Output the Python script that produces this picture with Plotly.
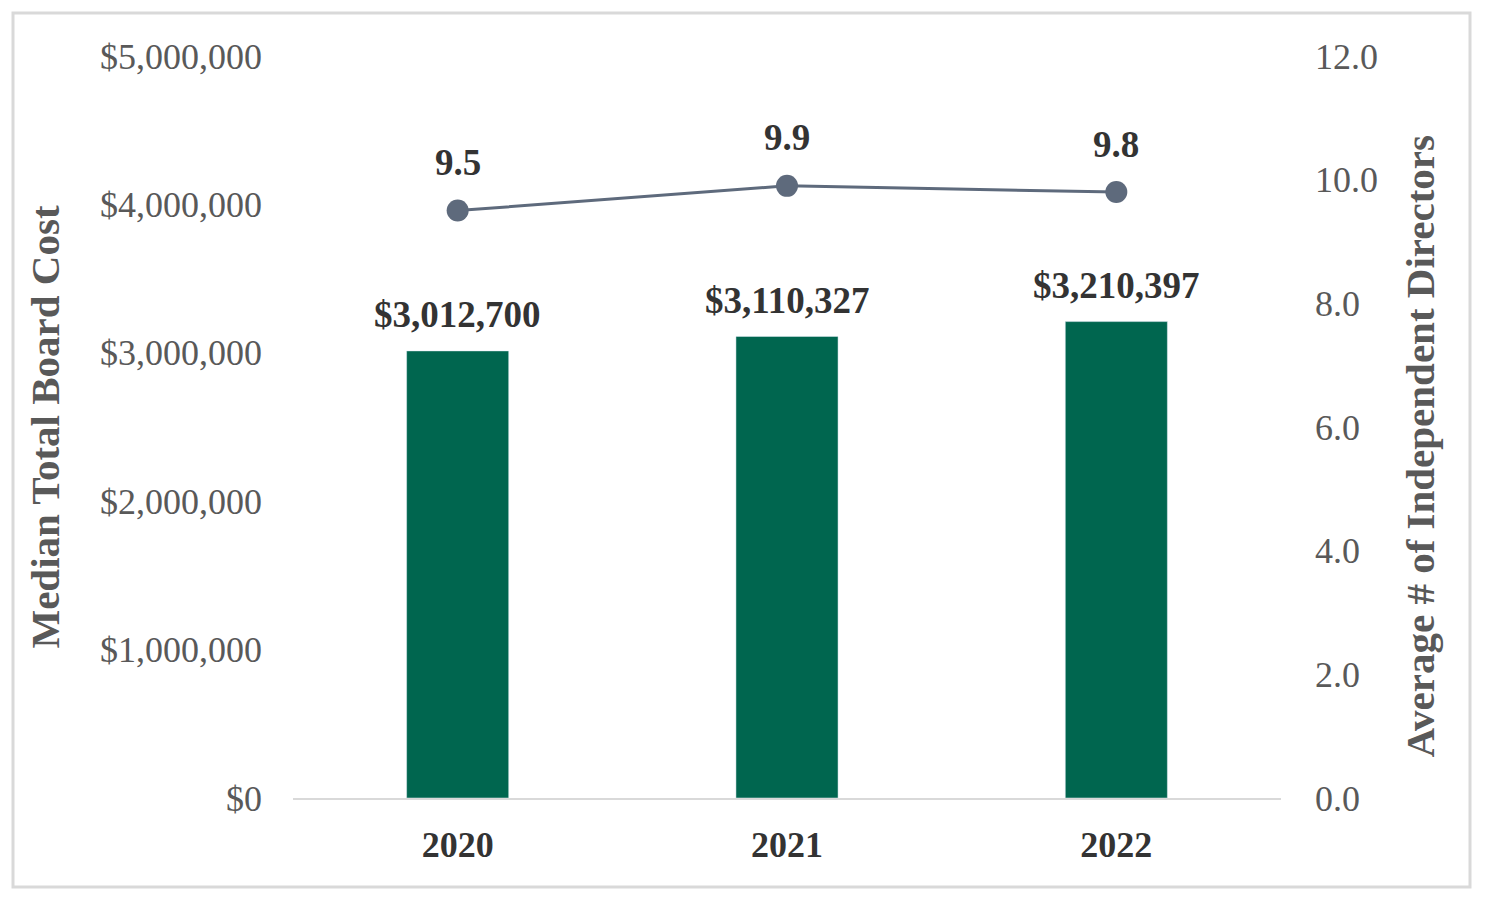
import plotly.graph_objects as go

years = ["2020", "2021", "2022"]
board_cost = [3012700, 3110327, 3210397]
directors = [9.5, 9.9, 9.8]
cost_labels = ["$3,012,700", "$3,110,327", "$3,210,397"]
dir_labels = ["9.5", "9.9", "9.8"]
left_ticks = [0, 1000000, 2000000, 3000000, 4000000, 5000000]
left_tick_text = ["$0", "$1,000,000", "$2,000,000", "$3,000,000", "$4,000,000", "$5,000,000"]
right_ticks = [0, 2, 4, 6, 8, 10, 12]
right_tick_text = ["0.0", "2.0", "4.0", "6.0", "8.0", "10.0", "12.0"]

FONT = "Liberation Serif"
BAR_COLOR = "#00664F"
LINE_COLOR = "#5E6A7C"
TICK_COLOR = "#595959"
LABEL_COLOR = "#333333"

fig = go.Figure()
fig.add_trace(go.Bar(x=years, y=board_cost, marker_color=BAR_COLOR, width=0.31,
                     yaxis="y", hoverinfo="skip"))
fig.add_trace(go.Scatter(x=years, y=directors, mode="lines+markers", yaxis="y2",
                         line=dict(color=LINE_COLOR, width=3),
                         marker=dict(color=LINE_COLOR, size=22), hoverinfo="skip"))

annotations = []
for i, (v, t) in enumerate(zip(board_cost, cost_labels)):
    annotations.append(dict(x=i, y=v, xref="x", yref="y", text="<b>%s</b>" % t,
                            showarrow=False, yanchor="middle", yshift=36,
                            font=dict(family=FONT, size=37, color=LABEL_COLOR)))
for i, (v, t) in enumerate(zip(directors, dir_labels)):
    annotations.append(dict(x=i, y=v, xref="x", yref="y2", text="<b>%s</b>" % t,
                            showarrow=False, yanchor="middle", yshift=48,
                            font=dict(family=FONT, size=37, color=LABEL_COLOR)))
# right axis title, placed as in the reference (slightly below centre)
annotations.append(dict(x=1.1407, y=0.4737, xref="paper", yref="paper",
                        text="<b>Average # of Independent Directors</b>", textangle=-90,
                        showarrow=False, xanchor="center", yanchor="middle",
                        font=dict(family=FONT, size=41, color=TICK_COLOR)))

fig.update_layout(
    width=1478, height=895,
    margin=dict(l=285, r=205, t=48, b=105),
    paper_bgcolor="white", plot_bgcolor="white",
    showlegend=False,
    font=dict(family=FONT, size=36, color=TICK_COLOR),
    xaxis=dict(type="category", range=[-0.5, 2.5], showgrid=False, showline=True,
               linecolor="#D9D9D9", linewidth=2, ticks="", ticklabelstandoff=14,
               automargin=False, tickangle=0,
               tickfont=dict(family=FONT, size=36, color=LABEL_COLOR),
               tickvals=years, ticktext=["<b>%s</b>" % y for y in years]),
    yaxis=dict(range=[0, 5000000], tickvals=left_ticks, ticktext=left_tick_text,
               showgrid=False, zeroline=False, showline=False, ticks="",
               ticklabelstandoff=30, automargin=False,
               tickfont=dict(family=FONT, size=36, color=TICK_COLOR),
               title=dict(text="<b>Median Total Board Cost</b>", standoff=27,
                          font=dict(family=FONT, size=41, color=TICK_COLOR))),
    yaxis2=dict(range=[0, 12], tickvals=right_ticks, ticktext=right_tick_text,
                overlaying="y", side="right", showgrid=False, zeroline=False,
                showline=False, ticks="", ticklabelstandoff=33, automargin=False,
                tickfont=dict(family=FONT, size=36, color=TICK_COLOR)),
    annotations=annotations,
    shapes=[dict(type="rect", xref="paper", yref="paper",
                 x0=-0.2834, x1=1.1913, y0=-0.12, y1=1.058,
                 line=dict(color="#D9D9D9", width=3), layer="below")],
)

fig.write_html("out.html")
